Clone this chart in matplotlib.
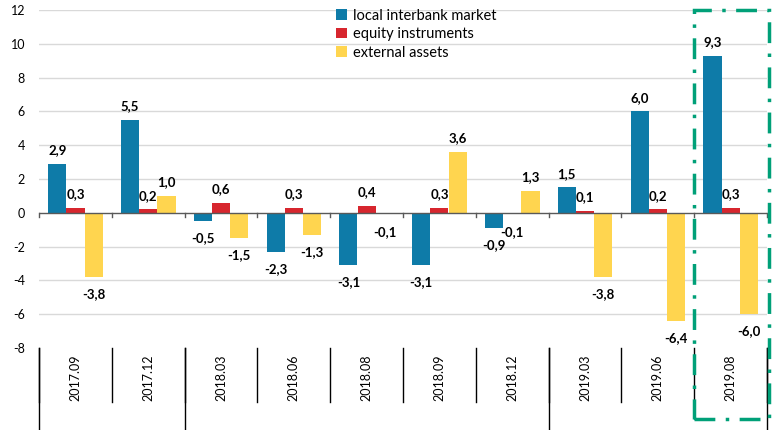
import matplotlib
matplotlib.use("Agg")
import matplotlib.pyplot as plt
import matplotlib.transforms as mtransforms
from matplotlib.patches import Rectangle
import numpy as np

plt.rcParams['font.family'] = ['Lato', 'DejaVu Sans']

categories = ["2017.09", "2017.12", "2018.03", "2018.06", "2018.08",
              "2018.09", "2018.12", "2019.03", "2019.06", "2019.08"]
local_interbank = [2.9, 5.5, -0.5, -2.3, -3.1, -3.1, -0.9, 1.5, 6.0, 9.3]
equity = [0.3, 0.2, 0.6, 0.3, 0.4, 0.3, -0.1, 0.1, 0.2, 0.3]
external = [-3.8, 1.0, -1.5, -1.3, -0.1, 3.6, 1.3, -3.8, -6.4, -6.0]
series_names = ["local interbank market", "equity instruments", "external assets"]
yticks = [-8, -6, -4, -2, 0, 2, 4, 6, 8, 10, 12]
year_breaks = [-0.5, 1.5, 6.5, 9.5]

colors = ["#0E7BA8", "#D7262E", "#FFD54F"]

fig = plt.figure(figsize=(7.74, 4.30), dpi=100)
ax = fig.add_axes([39/774, 1-348/430, (767-39)/774, (348-10)/430])

x = np.arange(len(categories))
w = 0.25
series = [local_interbank, equity, external]
for i, (vals, name, c) in enumerate(zip(series, series_names, colors)):
    xs = x + (i - 1) * w
    bars = ax.bar(xs, vals, width=w, color=c, label=name, zorder=3)
    for xx, v in zip(xs, vals):
        txt = f"{v:.1f}".replace(".", ",")
        if v >= 0:
            ax.annotate(txt, (xx, v), xytext=(0, 5.5), textcoords="offset points",
                        ha="center", va="bottom", fontsize=9.5, fontweight="bold", zorder=5)
        else:
            ax.annotate(txt, (xx, v), xytext=(0, -8), textcoords="offset points",
                        ha="center", va="top", fontsize=9.5, fontweight="bold", zorder=5)

ax.set_xlim(-0.5, len(categories) - 0.5)
ax.set_ylim(-8, 12)
ax.set_yticks(yticks)
ax.set_yticklabels([str(t) for t in yticks], fontsize=9)
for t in yticks:
    if t not in (-8, 0):
        ax.axhline(t, color="#D9D9D9", lw=1, zorder=1)
ax.axhline(0, color="#595959", lw=1, zorder=4)
for s in ax.spines.values():
    s.set_visible(False)
ax.tick_params(axis="y", length=0, pad=10)
ax.set_xticks([])

# zero-axis tick marks
for b in np.arange(-0.5, len(categories), 1.0):
    ax.plot([b, b], [0, -0.25], color="#595959", lw=1, zorder=4, clip_on=False)

trans = mtransforms.blended_transform_factory(ax.transData, ax.transAxes)
# category separators below plot
for b in np.arange(-0.5, len(categories), 1.0):
    ax.plot([b, b], [0, -54/338], color="black", lw=1, transform=trans, clip_on=False)
for b in year_breaks:
    ax.plot([b, b], [0, -82/338], color="black", lw=1, transform=trans, clip_on=False)
for xi, cat in zip(x, categories):
    ax.text(xi, -30/338, cat, rotation=90, ha="center", va="center",
            fontsize=9, transform=trans)

# highlight box
rect = Rectangle((8.5, -71/338), 1.03, 1 + 71/338, transform=trans, fill=False,
                 edgecolor="#00A078", lw=2.5, linestyle=(0, (6, 3, 1, 3)),
                 clip_on=False, zorder=6)
ax.add_patch(rect)

leg = ax.legend(loc="upper left", bbox_to_anchor=(290/728, 1.025), frameon=False,
                fontsize=10.5, handlelength=0.75, handleheight=0.75, handletextpad=0.4,
                labelspacing=0.3, borderaxespad=0.1)

fig.savefig("out.png", dpi=100)
